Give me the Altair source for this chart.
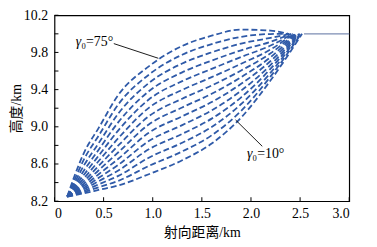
import altair as alt
import pandas as pd

# launch angles (deg)
gammas = [10, 15, 20, 25, 30, 35, 40, 45, 50, 55, 60, 65, 70, 75]

# common x positions read along each trajectory (km), plus individual end points
x_grid = [0.13, 0.2, 0.3, 0.45, 0.65, 0.96, 1.3, 1.6, 1.9, 2.2]
x_end = [2.52, 2.51, 2.50, 2.49, 2.48, 2.47, 2.455, 2.445, 2.435, 2.425, 2.41, 2.40, 2.39, 2.38]

# altitude (km) of each trajectory at x_grid + x_end
y_10 = [8.25, 8.263, 8.285, 8.321, 8.369, 8.49, 8.64, 8.82, 9.10, 9.50, 10.0]
y_15 = [8.25, 8.269, 8.298, 8.35, 8.419, 8.579, 8.735, 8.909, 9.172, 9.542, 10.0]
y_20 = [8.25, 8.275, 8.312, 8.381, 8.472, 8.668, 8.829, 8.998, 9.245, 9.583, 10.0]
y_25 = [8.25, 8.282, 8.328, 8.415, 8.53, 8.758, 8.924, 9.088, 9.317, 9.625, 10.0]
y_30 = [8.25, 8.289, 8.345, 8.451, 8.591, 8.847, 9.018, 9.177, 9.389, 9.666, 10.0]
y_35 = [8.25, 8.297, 8.365, 8.49, 8.656, 8.936, 9.113, 9.266, 9.462, 9.708, 10.0]
y_40 = [8.25, 8.307, 8.388, 8.533, 8.726, 9.025, 9.208, 9.355, 9.534, 9.749, 10.0]
y_45 = [8.25, 8.318, 8.415, 8.58, 8.799, 9.114, 9.302, 9.444, 9.606, 9.791, 10.0]
y_50 = [8.25, 8.331, 8.447, 8.632, 8.878, 9.204, 9.397, 9.534, 9.678, 9.832, 10.0]
y_55 = [8.25, 8.347, 8.485, 8.69, 8.962, 9.293, 9.491, 9.623, 9.751, 9.874, 10.0]
y_60 = [8.25, 8.366, 8.53, 8.754, 9.05, 9.382, 9.586, 9.712, 9.823, 9.915, 10.0]
y_65 = [8.25, 8.39, 8.585, 8.825, 9.143, 9.471, 9.681, 9.801, 9.895, 9.957, 10.0]
y_70 = [8.25, 8.42, 8.65, 8.905, 9.242, 9.56, 9.775, 9.89, 9.968, 9.998, 10.0]
y_75 = [8.25, 8.46, 8.72, 8.988, 9.343, 9.65, 9.87, 9.98, 10.045, 10.035, 10.0]
y_all = [y_10, y_15, y_20, y_25, y_30, y_35, y_40, y_45, y_50, y_55, y_60, y_65, y_70, y_75]

# target altitude line
target_x = [2.54, 3.0]
target_y = [10.0, 10.0]

x_ticks = [0, 0.5, 1.0, 1.5, 2.0, 2.5, 3.0]
y_ticks = [8.2, 8.4, 8.6, 8.8, 9.0, 9.2, 9.4, 9.6, 9.8, 10.0, 10.2]
y_labels = [8.2, 8.6, 9.0, 9.4, 9.8, 10.2]

rows = []
for g, ys, xe in zip(gammas, y_all, x_end):
    xs = x_grid + [xe]
    for k, (xv, yv) in enumerate(zip(xs, ys)):
        rows.append({"x": xv, "y": yv, "g": g, "k": k})
df = pd.DataFrame(rows)

W, H = 298, 188
SERIF = "Liberation Serif, Times New Roman, Noto Sans CJK SC"
BLUE = "#2f5aa8"

xs = alt.Scale(domain=[0, 3], nice=False, zero=False)
ys = alt.Scale(domain=[8.2, 10.2], nice=False, zero=False)

ax_x = alt.Axis(values=x_ticks, labelExpr="datum.value == 0 ? '0' : format(datum.value, '.1f')",
                ticks=False, domain=False, grid=False, labelPadding=6, labelOverlap=False,
                titleX=W / 2, titleY=32, titleBaseline="middle", titleAlign="center")
ax_y = alt.Axis(values=y_labels, labelExpr="format(datum.value, '.1f')",
                ticks=False, domain=False, grid=False,
                labelPadding=7, labelOverlap=False, labelFlush=False,
                titleX=-38, titleY=H / 2, titleAngle=-90,
                titleBaseline="middle", titleAlign="center")


def X(f):
    return alt.X(f, scale=xs, axis=ax_x, title="射向距离/km")


def Y(f):
    return alt.Y(f, scale=ys, axis=ax_y, title="高度/km")


curves = alt.Chart(df).mark_line(
    color=BLUE, strokeWidth=1.8, strokeDash=[6, 3], interpolate="monotone"
).encode(x=X("x:Q"), y=Y("y:Q"), detail="g:N", order="k:Q")

tdf = pd.DataFrame({"x": target_x, "y": target_y})
target = alt.Chart(tdf).mark_line(color="#7d8db3", strokeWidth=1.2).encode(x=X("x:Q"), y=Y("y:Q"))

pdf = pd.DataFrame({"x": [0.604, 2.115], "y": [9.895, 8.79], "x2": [1.057, 1.843], "y2": [9.737, 9.074]})
pointers = alt.Chart(pdf).mark_rule(color="black", strokeWidth=0.9).encode(
    x=X("x:Q"), y=Y("y:Q"), x2="x2:Q", y2="y2:Q")

ldf = pd.DataFrame({"x": [0.272, 2.014], "y": [9.916, 8.705], "rest": ["₀=75°", "₀=10°"]})
gsym = alt.Chart(ldf).mark_text(text="γ", font=SERIF, fontSize=14, fontStyle="italic",
                                align="right", baseline="middle", color="black").encode(
    x=X("x:Q"), y=Y("y:Q"))
grest = alt.Chart(ldf).mark_text(font=SERIF, fontSize=14, align="left", baseline="middle",
                                 color="black").encode(
    x=X("x:Q"), y=Y("y:Q"), text="rest:N")

xt = alt.Chart(pd.DataFrame({"x": x_ticks})).mark_rule(color="black", strokeWidth=1).encode(
    x=X("x:Q"), y=alt.value(H), y2=alt.value(H - 4))
yt = alt.Chart(pd.DataFrame({"y": y_ticks})).mark_rule(color="black", strokeWidth=1).encode(
    y=Y("y:Q"), x=alt.value(0), x2=alt.value(4))

chart = alt.layer(curves, target, pointers, gsym, grest, xt, yt).properties(
    width=W, height=H,
    autosize=alt.AutoSizeParams(type="none"),
    padding={"left": 47, "top": 6, "right": 20, "bottom": 44},
).configure_view(stroke="black", strokeWidth=1.2).configure_axis(
    labelFont=SERIF, labelFontSize=14, labelColor="black",
    titleFont=SERIF, titleFontSize=14, titleColor="black", titleFontWeight="normal",
)

chart.save("out.html", embed_options={"renderer": "svg", "actions": False})
